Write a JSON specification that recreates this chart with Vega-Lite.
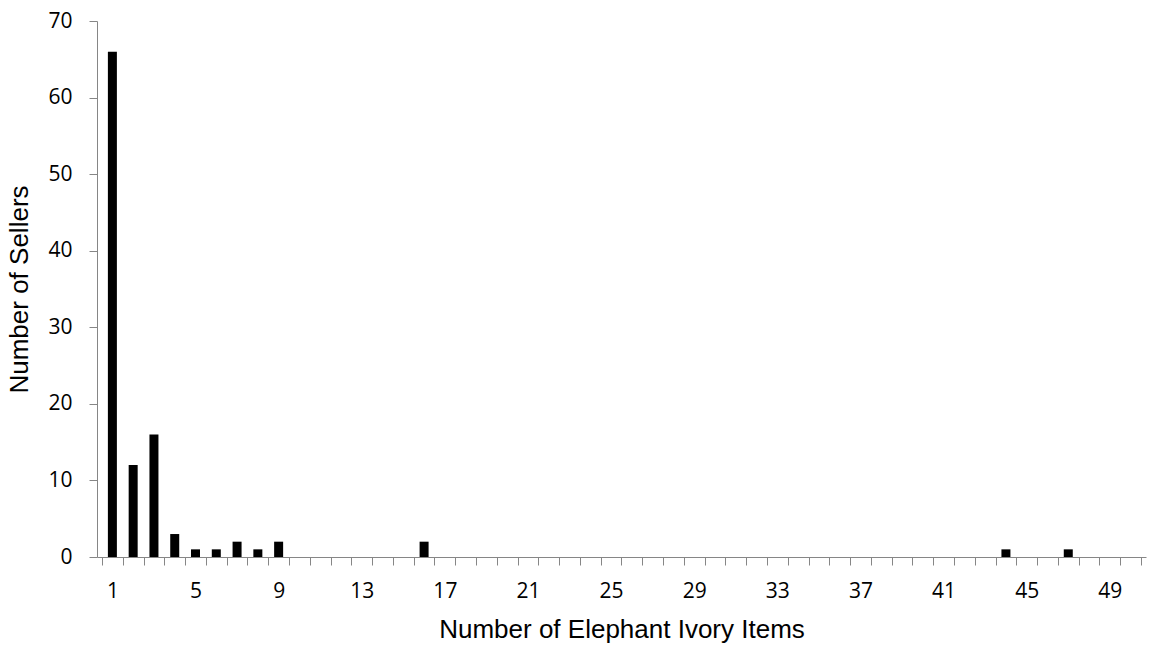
{
  "$schema": "https://vega.github.io/schema/vega-lite/v6.json",
  "width": 1049,
  "height": 536,
  "autosize": {"type": "none"},
  "padding": {"left": 97, "top": 21, "right": 13, "bottom": 91},
  "background": "white",
  "config": {"view": {"stroke": null}, "font": "Open Sans"},
  "data": {"values": [
    {"items": 1, "sellers": 66}, {"items": 2, "sellers": 12}, {"items": 3, "sellers": 16},
    {"items": 4, "sellers": 3}, {"items": 5, "sellers": 1}, {"items": 6, "sellers": 1},
    {"items": 7, "sellers": 2}, {"items": 8, "sellers": 1}, {"items": 9, "sellers": 2},
    {"items": 16, "sellers": 2}, {"items": 44, "sellers": 1}, {"items": 47, "sellers": 1}
  ]},
  "resolve": {"axis": {"x": "independent"}},
  "layer": [
    {
      "mark": {"type": "bar", "color": "black", "size": 9},
      "encoding": {
        "x": {"field": "items", "type": "quantitative",
          "scale": {"domain": [0.5, 50.5], "nice": false, "zero": false},
          "axis": {
            "orient": "bottom",
            "title": "Number of Elephant Ivory Items",
            "values": [1, 5, 9, 13, 17, 21, 25, 29, 33, 37, 41, 45, 49],
            "ticks": false, "domain": false, "grid": false,
            "labelFontSize": 21, "labelColor": "black", "labelPadding": 23,
            "titleFont": "Liberation Sans", "titleFontSize": 26, "titleFontWeight": "normal", "titleColor": "black", "titlePadding": 15
          }
        },
        "y": {"field": "sellers", "type": "quantitative",
          "scale": {"domain": [0, 70], "nice": false},
          "axis": {
            "title": "Number of Sellers",
            "values": [0, 10, 20, 30, 40, 50, 60, 70],
            "grid": false, "domainColor": "#868686", "tickColor": "#868686", "tickSize": 8,
            "labelFontSize": 21, "labelColor": "black", "labelPadding": 17,
            "titleFont": "Liberation Sans", "titleFontSize": 26, "titleFontWeight": "normal", "titleColor": "black", "titlePadding": 15
          }
        }
      }
    },
    {
      "mark": {"type": "rule", "opacity": 0},
      "encoding": {
        "x": {"field": "items", "type": "quantitative",
          "axis": {
            "title": null, "orient": "bottom",
            "values": [0.5,1.5,2.5,3.5,4.5,5.5,6.5,7.5,8.5,9.5,10.5,11.5,12.5,13.5,14.5,15.5,16.5,17.5,18.5,19.5,20.5,21.5,22.5,23.5,24.5,25.5,26.5,27.5,28.5,29.5,30.5,31.5,32.5,33.5,34.5,35.5,36.5,37.5,38.5,39.5,40.5,41.5,42.5,43.5,44.5,45.5,46.5,47.5,48.5,49.5,50.5],
            "labels": false, "grid": false,
            "domainColor": "#868686", "tickColor": "#868686", "tickSize": 8
          }
        }
      }
    }
  ]
}
